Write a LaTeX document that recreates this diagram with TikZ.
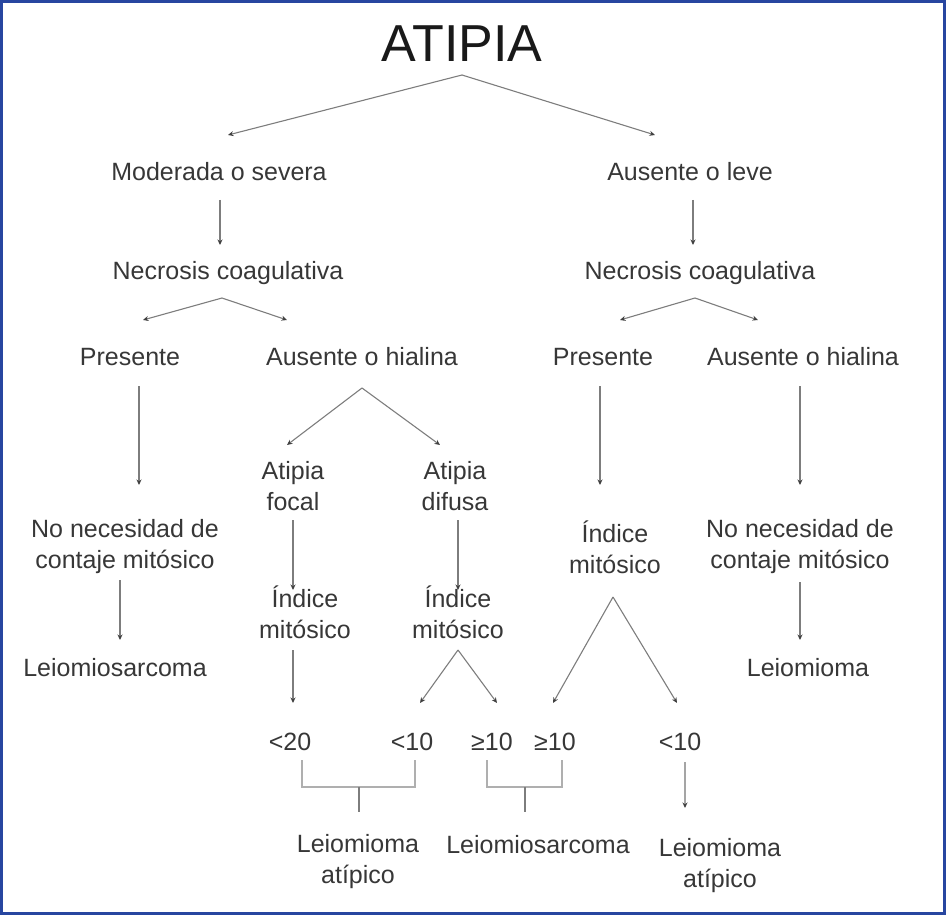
\documentclass[tikz,border=0pt]{standalone}
\usepackage{fontspec}
\setmainfont{Liberation Sans}
\usetikzlibrary{arrows.meta}
\definecolor{frameblue}{RGB}{40,70,160}
\definecolor{txt}{RGB}{55,55,55}
\definecolor{ln}{RGB}{125,125,125}
\definecolor{br}{RGB}{175,175,175}
\begin{document}
\begin{tikzpicture}[x=1pt,y=-1pt,
  lbl/.style={font=\fontsize{25}{31}\selectfont, text=txt, inner sep=0pt, align=center},
  ttl/.style={font=\fontsize{52}{60}\selectfont, text=black!90, inner sep=0pt},
  arr/.style={draw=ln, line width=1.1pt, -{Stealth[length=5.5pt,width=5pt,color=black!75]}},
  brc/.style={draw=br, line width=2.2pt},
  stub/.style={draw=ln, line width=1.2pt}]
\useasboundingbox (0,0) rectangle (946,915);
\draw[frameblue, line width=3pt] (1.5,1.5) rectangle (944.5,913.5);

% nodes
\node[ttl] (atipia) at (462,44) {ATIPIA};
\node[lbl] (mod) at (219,172) {Moderada o severa};
\node[lbl] (leve) at (690,172) {Ausente o leve};
\node[lbl] (necL) at (228,273) {Necrosis coagulativa};
\node[lbl] (necR) at (700,273) {Necrosis coagulativa};
\node[lbl] (presL) at (130,357) {Presente};
\node[lbl] (ausL) at (362,357) {Ausente o hialina};
\node[lbl] (presR) at (603,357) {Presente};
\node[lbl] (ausR) at (803,357) {Ausente o hialina};
\node[lbl] (focal) at (293,486) {Atipia\\focal};
\node[lbl] (difusa) at (455,486) {Atipia\\difusa};
\node[lbl] (noNecL) at (125,547) {No necesidad de\\contaje mitósico};
\node[lbl] (imR) at (615,547) {Índice\\mitósico};
\node[lbl] (noNecR) at (800,547) {No necesidad de\\contaje mitósico};
\node[lbl] (imF) at (305,612) {Índice\\mitósico};
\node[lbl] (imD) at (458,612) {Índice\\mitósico};
\node[lbl] (lmsL) at (115,668) {Leiomiosarcoma};
\node[lbl] (lmR) at (808,668) {Leiomioma};
\node[lbl] (v1) at (290,742) {<20};
\node[lbl] (v2) at (412,742) {<10};
\node[lbl] (v3) at (492,742) {≥10};
\node[lbl] (v4) at (555,742) {≥10};
\node[lbl] (v5) at (680,742) {<10};
\node[lbl] (lmaL) at (358,862) {Leiomioma\\atípico};
\node[lbl] (lmsB) at (538,845) {Leiomiosarcoma};
\node[lbl] (lmaR) at (720,866) {Leiomioma\\atípico};

% connector coordinates
\coordinate (a0) at (462,75);
\coordinate (t1) at (228,135);
\coordinate (t2) at (655,135);
\coordinate (s3) at (220,200); \coordinate (t3) at (220,245);
\coordinate (s4) at (693,200); \coordinate (t4) at (693,245);
\coordinate (aL) at (222,298); \coordinate (t5) at (143,320); \coordinate (t6) at (287,320);
\coordinate (aR) at (695,298); \coordinate (t7) at (620,320); \coordinate (t8) at (758,320);
\coordinate (s9) at (139,386); \coordinate (t9) at (139,485);
\coordinate (aH) at (362,388); \coordinate (t10) at (287,445); \coordinate (t11) at (440,445);
\coordinate (s12) at (600,386); \coordinate (t12) at (600,485);
\coordinate (s13) at (800,386); \coordinate (t13) at (800,485);
\coordinate (s14) at (293,520); \coordinate (t14) at (293,590);
\coordinate (s15) at (458,520); \coordinate (t15) at (458,590);
\coordinate (s16) at (120,580); \coordinate (t16) at (120,640);
\coordinate (s17) at (800,582); \coordinate (t17) at (800,640);
\coordinate (aIR) at (613,597); \coordinate (t18) at (553,703); \coordinate (t19) at (677,703);
\coordinate (aID) at (458,650); \coordinate (t20) at (420,703); \coordinate (t21) at (497,703);
\coordinate (s22) at (293,650); \coordinate (t22) at (293,703);
\coordinate (s23) at (685,762); \coordinate (t23) at (685,808);

% connectors
\draw[arr] (a0) -- (t1);
\draw[arr] (a0) -- (t2);
\draw[arr] (s3) -- (t3);
\draw[arr] (s4) -- (t4);
\draw[arr] (aL) -- (t5);
\draw[arr] (aL) -- (t6);
\draw[arr] (aR) -- (t7);
\draw[arr] (aR) -- (t8);
\draw[arr] (s9) -- (t9);
\draw[arr] (aH) -- (t10);
\draw[arr] (aH) -- (t11);
\draw[arr] (s12) -- (t12);
\draw[arr] (s13) -- (t13);
\draw[arr] (s14) -- (t14);
\draw[arr] (s15) -- (t15);
\draw[arr] (s16) -- (t16);
\draw[arr] (s17) -- (t17);
\draw[arr] (aIR) -- (t18);
\draw[arr] (aIR) -- (t19);
\draw[arr] (aID) -- (t20);
\draw[arr] (aID) -- (t21);
\draw[arr] (s22) -- (t22);
\draw[arr, line width=1.8pt, draw=br!80!ln] (s23) -- (t23);

% braces
\draw[brc] (302,760) -- (302,787) -- (415,787) -- (415,760);
\draw[stub] (359,787) -- (359,812);
\draw[brc] (487,760) -- (487,787) -- (562,787) -- (562,760);
\draw[stub] (525,787) -- (525,812);
\end{tikzpicture}
\end{document}
